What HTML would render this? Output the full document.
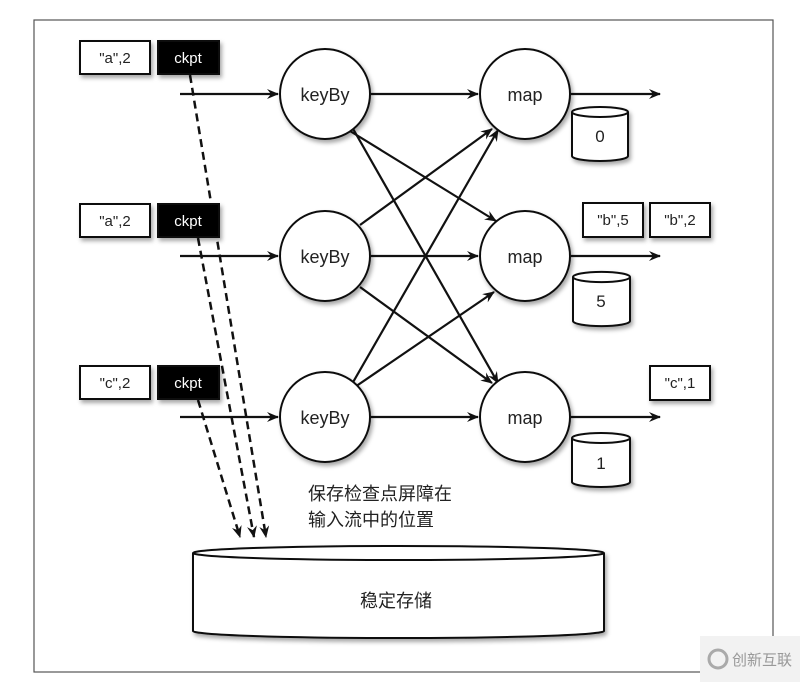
<!DOCTYPE html>
<html><head><meta charset="utf-8"><style>
html,body{margin:0;padding:0;background:#fff;}
svg{display:block;}
text{font-family:"Liberation Sans","Noto Sans CJK SC",sans-serif;fill:#222;}
</style></head><body>
<svg width="800" height="682" viewBox="0 0 800 682" xmlns="http://www.w3.org/2000/svg">
<defs>
<marker id="ah" markerWidth="12" markerHeight="10" refX="11" refY="5" orient="auto" markerUnits="userSpaceOnUse">
<path d="M0,0 L12,5 L0,10 L4,5 Z" fill="#111"/></marker>
<filter id="sh" x="-20%" y="-20%" width="150%" height="150%"><feDropShadow dx="2" dy="3" stdDeviation="2" flood-color="#000" flood-opacity="0.35"/></filter>
</defs>
<rect x="34" y="20" width="739" height="652" fill="none" stroke="#555" stroke-width="1.2"/>
<g stroke="#111" stroke-width="2.2" fill="none" marker-end="url(#ah)">
<line x1="180" y1="94" x2="278" y2="94"/>
<line x1="180" y1="256" x2="278" y2="256"/>
<line x1="180" y1="417" x2="278" y2="417"/>
<line x1="371" y1="94" x2="478" y2="94"/>
<line x1="371" y1="256" x2="478" y2="256"/>
<line x1="371" y1="417" x2="478" y2="417"/>
<line x1="571" y1="94" x2="660" y2="94"/>
<line x1="571" y1="256" x2="660" y2="256"/>
<line x1="571" y1="417" x2="660" y2="417"/>
<line x1="350" y1="131" x2="496" y2="221"/>
<line x1="352" y1="127" x2="498" y2="383"/>
<line x1="360" y1="225" x2="492" y2="129"/>
<line x1="360" y1="287" x2="492" y2="383"/>
<line x1="352" y1="384" x2="498" y2="130"/>
<line x1="352" y1="389" x2="494" y2="292"/>
</g>
<g stroke="#111" stroke-width="2.5" fill="none" stroke-dasharray="8,5" marker-end="url(#ah)">
<line x1="190" y1="75" x2="266" y2="537"/>
<line x1="198" y1="238" x2="254" y2="537"/>
<line x1="198" y1="400" x2="240" y2="537"/>
</g>
<g stroke="#111" stroke-width="2" fill="#fff" filter="url(#sh)">
<circle cx="325" cy="94" r="45"/><circle cx="325" cy="256" r="45"/><circle cx="325" cy="417" r="45"/>
<circle cx="525" cy="94" r="45"/><circle cx="525" cy="256" r="45"/><circle cx="525" cy="417" r="45"/>
</g>
<g font-size="18" text-anchor="middle">
<text x="325" y="101">keyBy</text><text x="325" y="263">keyBy</text><text x="325" y="424">keyBy</text>
<text x="525" y="101">map</text><text x="525" y="263">map</text><text x="525" y="424">map</text>
</g>
<g stroke="#111" stroke-width="2" fill="#fff" filter="url(#sh)">
<rect x="80" y="41" width="70" height="33"/><rect x="80" y="204" width="70" height="33"/><rect x="80" y="366" width="70" height="33"/>
<rect x="583" y="203" width="60" height="34"/><rect x="650" y="203" width="60" height="34"/><rect x="650" y="366" width="60" height="34"/>
<rect x="158" y="41" width="61" height="33" fill="#000"/><rect x="158" y="204" width="61" height="33" fill="#000"/><rect x="158" y="366" width="61" height="33" fill="#000"/>
</g>
<g font-size="15" text-anchor="middle">
<text x="115" y="63">"a",2</text><text x="115" y="226">"a",2</text><text x="115" y="388">"c",2</text>
<text x="613" y="225">"b",5</text><text x="680" y="225">"b",2</text><text x="680" y="388">"c",1</text>
<text x="188" y="63" style="fill:#fff">ckpt</text><text x="188" y="226" style="fill:#fff">ckpt</text><text x="188" y="388" style="fill:#fff">ckpt</text>
</g>
<g stroke="#111" stroke-width="2" fill="#fff" filter="url(#sh)">
<path d="M572,112 v44 a28,5 0 0 0 56,0 v-44 a28,5 0 0 0 -56,0 a28,5 0 0 0 56,0"/>
<path d="M573,277 v44 a28,5 0 0 0 57,0 v-44 a28,5 0 0 0 -57,0 a28,5 0 0 0 57,0"/>
<path d="M572,438 v44 a29,5 0 0 0 58,0 v-44 a29,5 0 0 0 -58,0 a29,5 0 0 0 58,0"/>
<path d="M193,553 v78 a205,7 0 0 0 411,0 v-78 a205,7 0 0 0 -411,0 a205,7 0 0 0 411,0"/>
</g>
<g font-size="17" text-anchor="middle">
<text x="600" y="142">0</text><text x="601" y="307">5</text><text x="601" y="469">1</text>
</g>
<text x="396" y="607" font-size="18" text-anchor="middle">稳定存储</text>
<text x="308" y="500" font-size="18">保存检查点屏障在</text>
<text x="308" y="526" font-size="18">输入流中的位置</text>
<rect x="700" y="636" width="100" height="46" fill="#f2f2f2"/>
<circle cx="718" cy="659" r="9" fill="none" stroke="#aaa" stroke-width="3"/>
<text x="732" y="665" font-size="15" style="fill:#999">创新互联</text>
</svg>
</body></html>
